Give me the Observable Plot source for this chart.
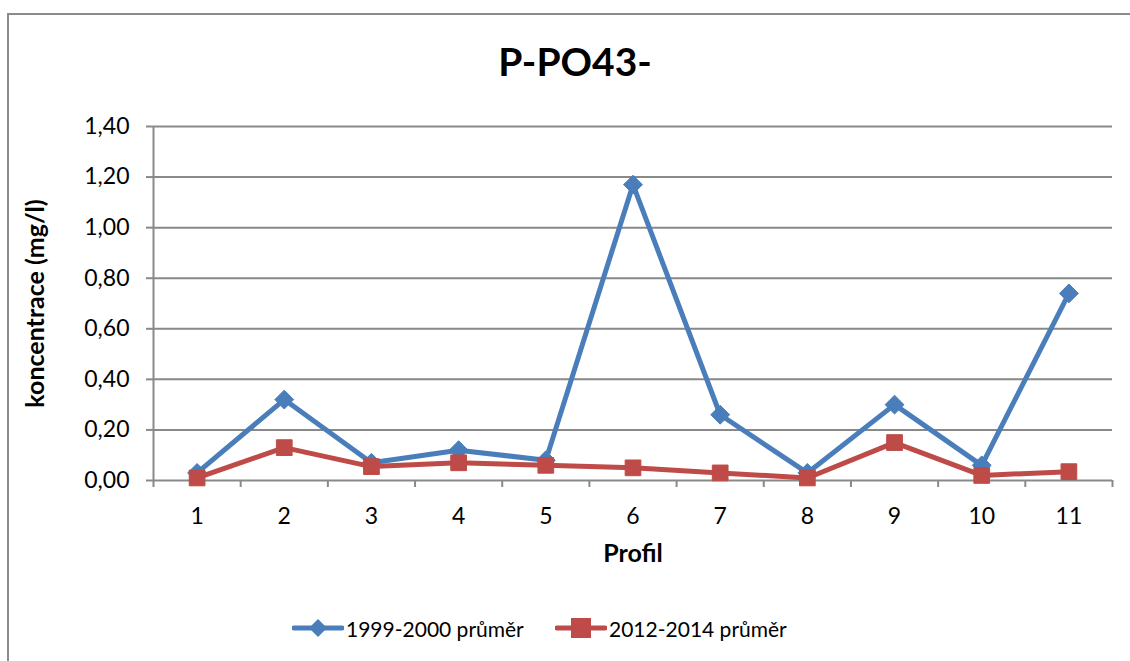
<!DOCTYPE html>
<html>
<head>
<meta charset="utf-8">
<script src="https://cdn.jsdelivr.net/npm/d3@7"></script>
<script src="https://cdn.jsdelivr.net/npm/@observablehq/plot@0.6"></script>
<style>
  html, body { margin: 0; padding: 0; background: #fff; }
  #wrap { position: relative; width: 1130px; height: 661px; overflow: hidden; font-family: Lato, "Liberation Sans", sans-serif; }
  #frame { position: absolute; left: 7px; top: 13px; width: 1140px; height: 700px; border: 2px solid #8c8c8c; box-sizing: border-box; }
  #title { position: absolute; left: 0; width: 1150px; top: 38px; text-align: center; font-weight: bold; font-size: 39px; color: #000; }
  #chart { position: absolute; left: 0; top: 0; }
  #legend { position: absolute; top: 613px; left: 0; width: 1130px; height: 30px; }
  .item { position: absolute; top: 0; display: flex; align-items: center; font-size: 21px; color: #000; }
  .item svg { display: block; }
  #chart svg text { fill: #000; }
</style>
</head>
<body>
<div id="wrap">
  <div id="frame"></div>
  <div id="title">P-PO43-</div>
  <div id="chart"></div>
  <div id="legend"></div>
</div>
<script>
const profiles = [1, 2, 3, 4, 5, 6, 7, 8, 9, 10, 11];
const series1Name = "1999-2000 průměr";
const series2Name = "2012-2014 průměr";
const series1 = [0.03, 0.32, 0.07, 0.12, 0.08, 1.17, 0.26, 0.03, 0.30, 0.06, 0.74];
const series2 = [0.01, 0.13, 0.055, 0.07, 0.06, 0.05, 0.03, 0.01, 0.15, 0.02, 0.035];
const yTicks = [0, 0.2, 0.4, 0.6, 0.8, 1.0, 1.2, 1.4];
const xBoundaries = [0.5, 1.5, 2.5, 3.5, 4.5, 5.5, 6.5, 7.5, 8.5, 9.5, 10.5, 11.5];
const blue = "#4a7ebb";
const red = "#be4b48";
const grid = "#898989";

const d1 = profiles.map((p, i) => ({profil: p, value: series1[i]}));
const d2 = profiles.map((p, i) => ({profil: p, value: series2[i]}));
const fmt = d => d.toFixed(2).replace(".", ",");

const plot = Plot.plot({
  width: 1130,
  height: 661,
  marginLeft: 153,
  marginRight: 18,
  marginTop: 126,
  marginBottom: 181,
  style: {fontFamily: "Lato, 'Liberation Sans', sans-serif", fontSize: "22px", background: "transparent", overflow: "visible"},
  x: {type: "linear", domain: [0.5, 11.5]},
  y: {domain: [0, 1.4]},
  marks: [
    Plot.ruleY(yTicks, {stroke: grid, strokeWidth: 2}),
    Plot.ruleX([0.5], {stroke: grid, strokeWidth: 2}),
    Plot.axisY(yTicks, {tickFormat: fmt, tickSize: 7, tickPadding: 17, stroke: grid, strokeWidth: 2, fontSize: 23, fill: "#000", label: null}),
    Plot.axisX(xBoundaries, {tickSize: 7, stroke: grid, strokeWidth: 2, tickFormat: () => "", label: null}),
    Plot.axisX(profiles, {tickSize: 0, tickPadding: 27, fontSize: 23, fill: "#000", label: null}),
    Plot.text(["koncentrace (mg/l)"], {frameAnchor: "left", dx: -118, rotate: -90, textAnchor: "middle", lineAnchor: "middle", fontWeight: "bold", fontSize: 25, fill: "#000"}),
    Plot.text(["Profil"], {frameAnchor: "bottom", dy: 73, textAnchor: "middle", lineAnchor: "middle", fontWeight: "bold", fontSize: 25, fill: "#000"}),
    Plot.line(d1, {x: "profil", y: "value", stroke: blue, strokeWidth: 5}),
    Plot.dot(d1, {x: "profil", y: "value", symbol: "diamond2", r: 8.5, fill: blue, stroke: blue, strokeWidth: 1}),
    Plot.line(d2, {x: "profil", y: "value", stroke: red, strokeWidth: 5}),
    Plot.dot(d2, {x: "profil", y: "value", symbol: "square2", r: 10, fill: red, stroke: red, strokeWidth: 1})
  ]
});
document.getElementById("chart").appendChild(plot);

// Legend
const legend = document.getElementById("legend");
function addItem(left, color, shape, label) {
  const item = document.createElement("div");
  item.className = "item";
  item.style.left = left + "px";
  const ns = "http://www.w3.org/2000/svg";
  const svg = document.createElementNS(ns, "svg");
  svg.setAttribute("width", 52);
  svg.setAttribute("height", 30);
  const line = document.createElementNS(ns, "line");
  line.setAttribute("x1", 2); line.setAttribute("x2", 50);
  line.setAttribute("y1", 15); line.setAttribute("y2", 15);
  line.setAttribute("stroke", color); line.setAttribute("stroke-width", 5);
  line.setAttribute("stroke-linecap", "round");
  svg.appendChild(line);
  let m;
  if (shape === "diamond") {
    m = document.createElementNS(ns, "polygon");
    m.setAttribute("points", "26,6 35,15 26,24 17,15");
  } else {
    m = document.createElementNS(ns, "rect");
    m.setAttribute("x", 16); m.setAttribute("y", 5);
    m.setAttribute("width", 20); m.setAttribute("height", 20);
  }
  m.setAttribute("fill", color);
  svg.appendChild(m);
  item.appendChild(svg);
  const t = document.createElement("span");
  t.textContent = label;
  t.style.marginLeft = "2px";
  item.appendChild(t);
  legend.appendChild(item);
}
addItem(292, blue, "diamond", series1Name);
addItem(555, red, "square", series2Name);
</script>
</body>
</html>
